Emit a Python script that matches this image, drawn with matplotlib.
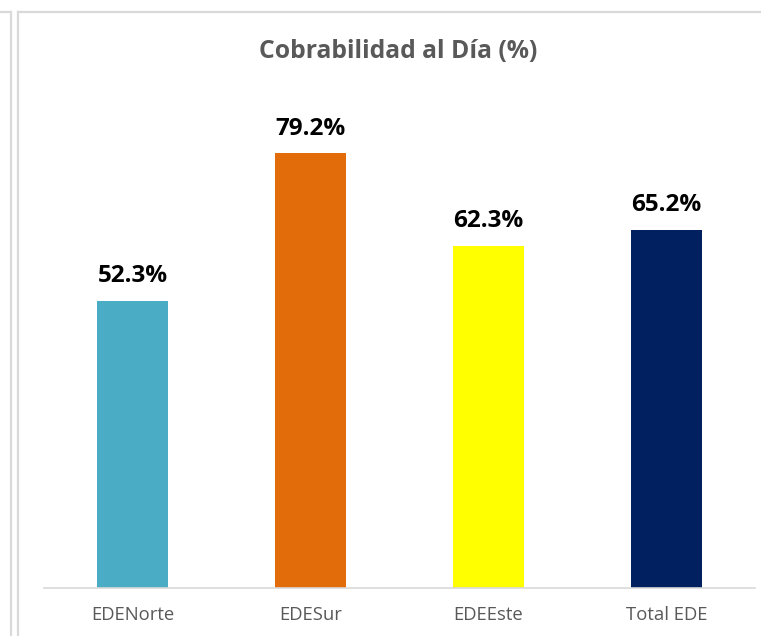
import matplotlib.pyplot as plt
from matplotlib.lines import Line2D

empresas = ["EDENorte", "EDESur", "EDEEste", "Total EDE"]
cobrabilidad = [52.3, 79.2, 62.3, 65.2]
colores = ["#4BACC6", "#E36C0A", "#FFFF00", "#002060"]

W, H = 761, 636
plt.rcParams['font.family'] = ['Open Sans', 'DejaVu Sans']

fig = plt.figure(figsize=(W / 100, H / 100), dpi=100)

# zone du graphique en pixels
x0, x1 = 43.5, 755.5
y_base = 588
ymax = 90
px_par_unite = 5.49
y_top = y_base - ymax * px_par_unite
ax = fig.add_axes([x0 / W, (H - y_base) / H, (x1 - x0) / W, (y_base - y_top) / H])

pos = range(len(empresas))
ax.bar(pos, cobrabilidad, width=0.4, color=colores)
for i, v in zip(pos, cobrabilidad):
    ax.text(i, v + 2.3, f"{v:.1f}%", ha="center", va="bottom", fontsize=17.5,
            fontweight="bold", color="black")

ax.set_xlim(-0.5, len(empresas) - 0.5)
ax.set_ylim(0, ymax)
ax.set_xticks(list(pos))
ax.set_xticklabels(empresas, fontsize=13.3, color="#595959")
ax.tick_params(axis="x", length=0, pad=13)
ax.set_yticks([])
for s in ["top", "right", "left"]:
    ax.spines[s].set_visible(False)
ax.spines["bottom"].set_color("#D9D9D9")
ax.spines["bottom"].set_linewidth(1.2)

fig.text(398 / W, 1 - 51 / H, "Cobrabilidad al Día (%)", ha="center", va="center",
         fontsize=17.8, fontweight="bold", color="#595959")

# bordures (cellules / cadre du graphique)
gris = "#D9D9D9"
def ligne(xs, ys):
    fig.add_artist(Line2D([x / W for x in xs], [1 - y / H for y in ys],
                          color=gris, linewidth=1.6))
ligne([0, 11], [12, 12])
ligne([11, 11], [12, H])
ligne([18, 18], [12, H])
ligne([18, W], [12, 12])

fig.savefig("out.png", dpi=100)
